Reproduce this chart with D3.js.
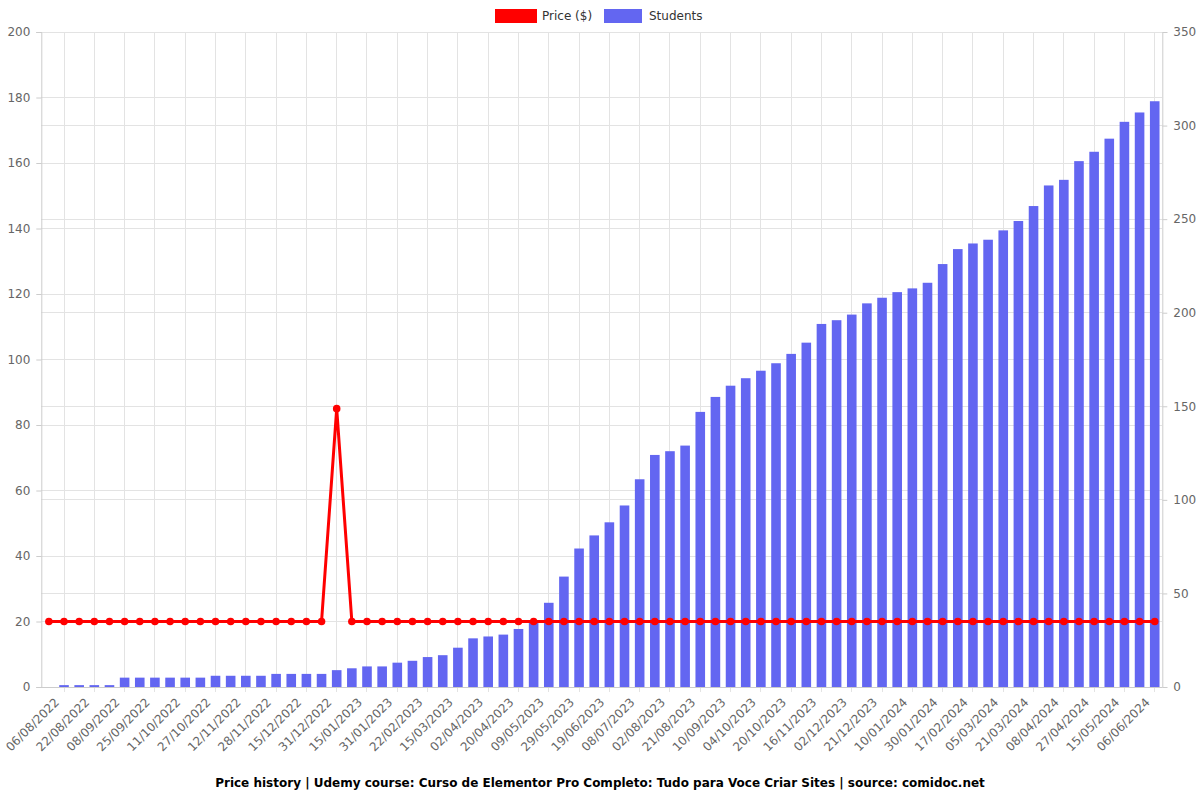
<!DOCTYPE html>
<html>
<head>
<meta charset="utf-8">
<script src="https://cdn.jsdelivr.net/npm/d3@7"></script>
<style>
  html, body { margin: 0; padding: 0; background: #fff; }
  svg { display: block; font-family: "DejaVu Sans", sans-serif; }
</style>
</head>
<body>
<svg id="chart" width="1200" height="800"></svg>
<script>
// ---- data ----
const dateLabels = ["06/08/2022","22/08/2022","08/09/2022","25/09/2022","11/10/2022","27/10/2022","12/11/2022","28/11/2022","15/12/2022","31/12/2022","15/01/2023","31/01/2023","22/02/2023","15/03/2023","02/04/2023","20/04/2023","09/05/2023","29/05/2023","19/06/2023","08/07/2023","02/08/2023","21/08/2023","10/09/2023","04/10/2023","20/10/2023","16/11/2023","02/12/2023","21/12/2023","10/01/2024","30/01/2024","17/02/2024","05/03/2024","21/03/2024","08/04/2024","27/04/2024","15/05/2024","06/06/2024"];
const students = [0,1,1,1,1,5,5,5,5,5,5,6,6,6,6,7,7,7,7,9,10,11,11,13,14,16,17,21,26,27,28,31,35,45,59,74,81,88,97,111,124,126,129,147,155,161,165,169,173,178,184,194,196,199,205,208,211,213,216,226,234,237,239,244,249,257,268,271,281,286,293,302,307,313];
const price = [20,20,20,20,20,20,20,20,20,20,20,20,20,20,20,20,20,20,20,85,20,20,20,20,20,20,20,20,20,20,20,20,20,20,20,20,20,20,20,20,20,20,20,20,20,20,20,20,20,20,20,20,20,20,20,20,20,20,20,20,20,20,20,20,20,20,20,20,20,20,20,20,20,20];
const priceTicks = [0,20,40,60,80,100,120,140,160,180,200];
const studentTicks = [0,50,100,150,200,250,300,350];
const titleText = "Price history | Udemy course: Curso de Elementor Pro Completo: Tudo para Voce Criar Sites | source: comidoc.net";
const legendItems = [{name: "Price ($)", color: "#ff0000"}, {name: "Students", color: "#6366f1"}];

// ---- layout ----
const svg = d3.select("#chart");
const pLeft = 41.3, pRight = 1162.3, pTop = 32, pBottom = 687;
const n = students.length;
const x = d3.scaleBand().domain(d3.range(n)).range([pLeft, pRight]);
const cx = i => x(i) + x.bandwidth() / 2;
const yL = d3.scaleLinear().domain([0, 200]).range([pBottom, pTop]);
const yR = d3.scaleLinear().domain([0, 350]).range([pBottom, pTop]);

svg.append("rect").attr("width", 1200).attr("height", 800).attr("fill", "#fff");

// grid lines
const grid = svg.append("g");
grid.selectAll(".gl").data(priceTicks).join("line")
  .attr("x1", pLeft).attr("x2", pRight)
  .attr("y1", d => yL(d)).attr("y2", d => yL(d))
  .attr("stroke", "#e3e3e3").attr("stroke-width", 1).attr("shape-rendering", "crispEdges");
grid.selectAll(".gr").data(studentTicks).join("line")
  .attr("x1", pLeft).attr("x2", pRight)
  .attr("y1", d => yR(d)).attr("y2", d => yR(d))
  .attr("stroke", "#e3e3e3").attr("stroke-width", 1).attr("shape-rendering", "crispEdges");
const oddIdx = d3.range(n).filter(i => i % 2 === 1);
grid.selectAll(".gv").data(oddIdx).join("line")
  .attr("x1", d => cx(d)).attr("x2", d => cx(d))
  .attr("y1", pTop).attr("y2", pBottom + 5)
  .attr("stroke", "#e3e3e3").attr("stroke-width", 1).attr("shape-rendering", "crispEdges");

// axes
const axisL = d3.axisLeft(yL).tickValues(priceTicks).tickSize(5).tickPadding(6);
const gL = svg.append("g").attr("transform", `translate(${pLeft},0)`).call(axisL);
const axisR = d3.axisRight(yR).tickValues(studentTicks).tickSize(5).tickPadding(6);
const gR = svg.append("g").attr("transform", `translate(${pRight},0)`).call(axisR);
[gL, gR].forEach(g => {
  g.select(".domain").attr("stroke", "#cccccc");
  g.selectAll(".tick line").attr("stroke", "#cccccc");
  g.selectAll(".tick text").attr("fill", "#666").attr("font-size", 12).attr("font-family", "DejaVu Sans, sans-serif");
});

// bars
const barW = 9.6;
svg.append("g").selectAll("rect").data(students).join("rect")
  .attr("x", (d, i) => cx(i) - barW / 2)
  .attr("width", barW)
  .attr("y", d => yR(d))
  .attr("height", d => pBottom - yR(d))
  .attr("fill", "#6366f1");

// bottom axis line
svg.append("line").attr("x1", pLeft).attr("x2", pRight).attr("y1", pBottom).attr("y2", pBottom)
  .attr("stroke", "#cccccc").attr("shape-rendering", "crispEdges");

// x labels (even indices)
const evenIdx = d3.range(n).filter(i => i % 2 === 0);
svg.append("g").selectAll("text").data(evenIdx).join("text")
  .attr("transform", d => `translate(${cx(d) + 8},${pBottom + 13}) rotate(-45)`)
  .attr("text-anchor", "end")
  .attr("dy", "0.35em")
  .attr("fill", "#666").attr("font-size", 12)
  .text(d => dateLabels[d / 2]);

// price line
const line = d3.line().x((d, i) => cx(i)).y(d => yL(d));
svg.append("path").datum(price).attr("d", line)
  .attr("fill", "none").attr("stroke", "#ff0000").attr("stroke-width", 3).attr("stroke-linejoin", "round");
svg.append("g").selectAll("circle").data(price).join("circle")
  .attr("cx", (d, i) => cx(i)).attr("cy", d => yL(d)).attr("r", 3.8).attr("fill", "#ff0000");

// legend
const lg = svg.append("g");
const legPos = [{rx: 495, rw: 42, tx: 542}, {rx: 604, rw: 38, tx: 649}];
legendItems.forEach((it, k) => {
  lg.append("rect").attr("x", legPos[k].rx).attr("y", 9).attr("width", legPos[k].rw).attr("height", 14)
    .attr("fill", it.color);
  lg.append("text").attr("x", legPos[k].tx).attr("y", 16).attr("dy", "0.35em")
    .attr("font-size", 12).attr("fill", "#333").text(it.name);
});

// title
svg.append("text").attr("x", 600).attr("y", 783).attr("dy", "0.35em").attr("text-anchor", "middle")
  .attr("font-size", 12).attr("font-weight", "bold").attr("fill", "#000").text(titleText);
</script>
</body>
</html>
